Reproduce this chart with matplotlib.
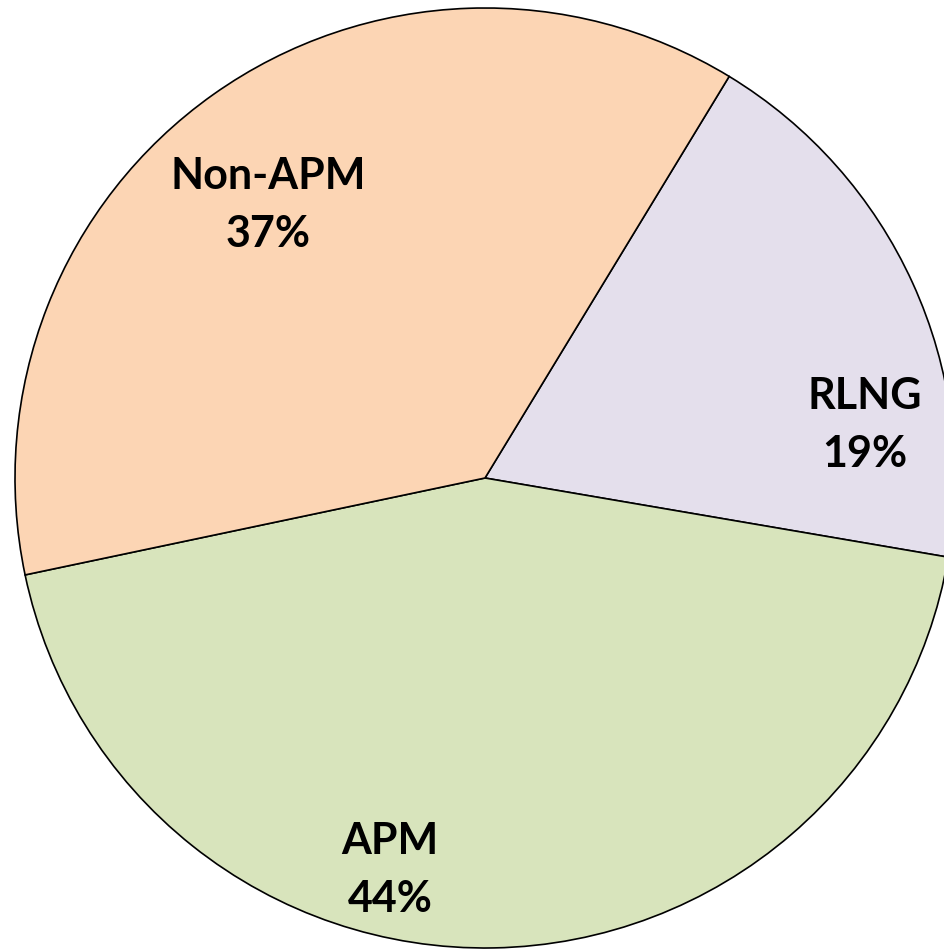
import matplotlib.pyplot as plt

labels = ['RLNG', 'APM', 'Non-APM']
shares = [19, 44, 37]
colors = ['#E4DFEC', '#D8E4BC', '#FCD5B4']

W, H = 945, 949
cx, cy, R = 485, 478, 470

fig = plt.figure(figsize=(W / 100, H / 100), dpi=100)
ax = fig.add_axes([0, 0, 1, 1])

wedges, _ = ax.pie(shares, colors=colors, startangle=58.7, counterclock=False,
                   radius=1, wedgeprops=dict(edgecolor='black', linewidth=1.2))

# label spots (pie units, centre = 0,0)
label_xy = [(0.809, 0.113), (-0.202, -0.834), (-0.462, 0.581)]
for (x, y), lab, val in zip(label_xy, labels, shares):
    ax.text(x, y, f'{lab}\n{val}%', ha='center', va='center',
            fontsize=31, fontweight='bold', family='Lato', linespacing=1.55)

ax.set_xlim(-cx / R, (W - cx) / R)
ax.set_ylim(-(H - cy) / R, cy / R)
ax.set_aspect('auto')
ax.axis('off')

fig.savefig('out.png', dpi=100)
